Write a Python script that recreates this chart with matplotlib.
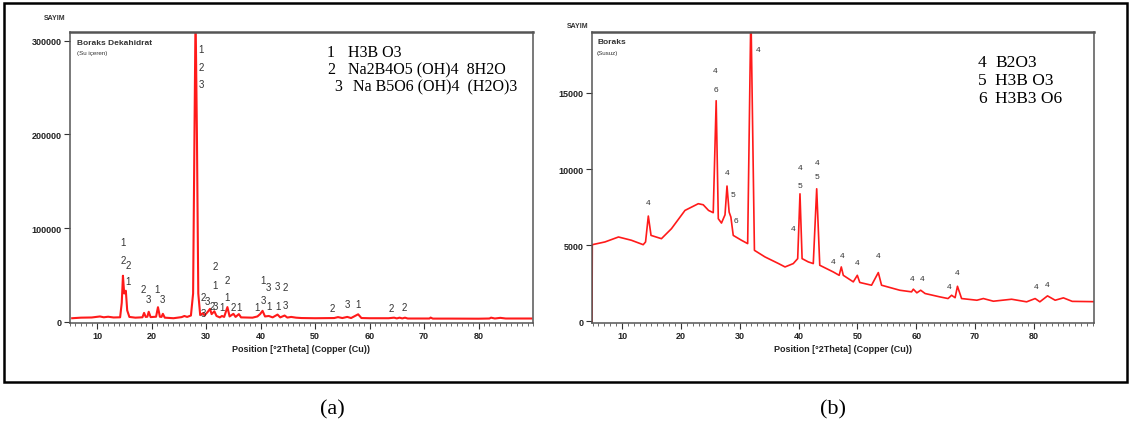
import matplotlib
matplotlib.use("Agg")
import matplotlib.pyplot as plt
from matplotlib.patches import Rectangle

plt.rcParams['font.family'] = ['Liberation Sans Narrow', 'Liberation Sans', 'DejaVu Sans']

# panel (a): borax decahydrate pattern
a_theta = [5.4, 7, 9, 10.5, 11.2, 12, 13, 14.2, 14.5, 14.72, 14.95, 15.25, 15.5, 15.9,
           17, 18.3, 18.6, 18.9, 19.2, 19.45, 19.8, 20.8, 21.15, 21.5, 21.8, 22.05, 22.4,
           24, 25.5, 26, 26.5, 27.2, 27.6, 27.85, 28.05, 28.3, 28.55, 28.9, 29.4, 29.7,
           30.3, 30.7, 31.0, 31.5, 31.9, 32.5, 32.9, 33.3, 33.9, 34.3, 35.0, 35.4, 36.0,
           36.4, 38.5, 39.4, 39.9, 40.35, 40.8, 41.5, 42.2, 43.1, 43.6, 44.4, 44.9, 45.6,
           46.5, 47.5, 50, 53.5, 54.2, 55, 55.9, 56.6, 57.9, 58.5, 60, 63.5, 64.5, 65.0,
           65.5, 66.0, 66.5, 67, 71, 71.2, 71.6, 75, 80, 82, 82.3, 83, 84, 85, 89.7]
a_counts = [3600, 4200, 4400, 5500, 4600, 5200, 4400, 4600, 20000, 49000, 30000, 33000, 12000, 5000,
            4200, 4600, 9300, 5000, 5200, 10500, 4800, 5200, 15400, 5200, 5000, 8300, 4200,
            3600, 4800, 6000, 5000, 6500, 30000, 200000, 330000, 200000, 30000, 7000, 9000, 6500,
            10500, 13600, 8000, 11000, 6000, 4500, 6000, 5000, 15500, 5500, 8300, 5000, 8000,
            4500, 4200, 5500, 8000, 11500, 5500, 6000, 4500, 7500, 4500, 6500, 4300, 5000,
            4200, 3800, 3600, 3800, 4800, 3800, 5000, 3800, 7800, 3800, 3600, 3600, 4200, 3400,
            4200, 3400, 4200, 3300, 3300, 4300, 3200, 3200, 3100, 3300, 4200, 3300, 4000, 3300, 3300]

# peak markers (a): text, 2theta, counts
a_lab_txt = ['1', '2', '2', '1', '2', '3', '1', '3', '2', '3', '3', '2', '2', '1', '3', '1',
             '2', '1', '2', '1', '1', '1', '3', '3', '1', '3', '1', '2', '3', '2', '3', '1',
             '2', '2', '1', '2', '3']
a_lab_x = [14.69, 14.69, 15.67, 15.67, 18.4, 19.38, 21.0, 21.99, 29.4, 29.4, 30.3, 31.1,
           31.7, 31.7, 31.7, 32.9, 33.9, 33.9, 35.0, 36.0, 39.3, 40.5, 40.5, 41.5, 41.5,
           43.1, 43.1, 44.45, 44.45, 53.1, 55.9, 57.9, 64.05, 66.3, 29.1, 29.1, 29.1]
a_lab_y = [84800, 65500, 60100, 42900, 34800, 24000, 34800, 24000, 26800, 9700, 21500, 16800,
           59800, 39400, 16800, 15400, 44700, 26800, 15400, 15400, 15400, 44700, 23300, 36900, 16800,
           38300, 16800, 36900, 17900, 14300, 19000, 19000, 14300, 15400, 291500, 271900, 254000]

a_legend_num = ['1', '2', '3']
a_legend_txt = ['H3B O3', 'Na2B4O5 (OH)4  8H2O', 'Na B5O6 (OH)4  (H2O)3']

# panel (b): anhydrous borax pattern
b_theta = [4.9, 4.95, 7.1, 9.4, 11.6, 13.6, 14.0, 14.47, 14.93, 16.7, 18.4, 20.7, 22.96, 23.8,
           24.7, 25.5, 26.0, 26.36, 26.9, 27.5, 27.84, 28.2, 28.5, 28.9, 30.3, 31.35, 31.9,
           32.5, 34.3, 36.6, 37.7, 39.1, 39.85, 40.24, 40.6, 41.65, 42.5, 43.08, 43.6, 45.9,
           46.9, 47.26, 47.6, 49.3, 49.98, 50.4, 52.4, 53.55, 54.1, 57.2, 59.2, 59.5, 60.1,
           60.75, 61.5, 64.0, 65.4, 66.0, 66.6, 67.0, 67.7, 70.3, 71.4, 73.1, 76.2, 78.75,
           80.2, 81.0, 82.3, 83.6, 85.0, 86.5, 90.2]
b_counts = [0, 5040, 5220, 5545, 5330, 5040, 5220, 6920, 5650, 5435, 6090, 7290, 7730, 7660,
            7290, 7140, 14490, 6745, 6460, 7000, 8890, 7180, 6850, 5650, 5330, 5110, 20500,
            4670, 4235, 3800, 3580, 3800, 4125, 8380, 4125, 3910, 3800, 8710, 3690, 3250,
            3030, 3580, 3030, 2600, 3030, 2560, 2380, 3210, 2380, 2050, 1945, 2120, 1880,
            2050, 1835, 1615, 1505, 1720, 1560, 2310, 1505, 1395, 1505, 1330, 1460, 1290,
            1505, 1290, 1680, 1395, 1550, 1320, 1300]

b_lab_txt = ['4', '4', '6', '4', '5', '6', '4', '4', '4', '5', '4', '5', '4', '4', '4', '4',
             '4', '4', '4', '4', '4', '4']
b_lab_x = [14.5, 25.9, 25.9, 27.8, 28.9, 29.3, 33.1, 39.0, 40.24, 40.24, 43.08, 43.08,
           45.9, 47.4, 50.0, 53.5, 59.3, 61.0, 65.5, 67.0, 80.3, 82.3]
b_lab_y = [7790, 16460, 15210, 9800, 8340, 6640, 17880, 6090, 10130, 8930, 10460, 9540,
           3910, 4300, 3840, 4340, 2815, 2790, 2270, 3210, 2270, 2440]

b_legend_num = ['4', '5', '6']
b_legend_txt = ['B2O3', 'H3B O3', 'H3B3 O6']

W, H = 1130, 439
fig = plt.figure(figsize=(W / 100, H / 100), dpi=100)
fig.patches.append(Rectangle((4 / W, (H - 383) / H), 1123 / W, 379 / H,
                             transform=fig.transFigure, fill=False,
                             edgecolor='black', linewidth=1.8))


def px_axes(l, t, r, b):
    return fig.add_axes([l / W, (H - b) / H, (r - l) / W, (b - t) / H])


def style(ax, xlim, ylim, yticks):
    ax.set_xlim(*xlim)
    ax.set_ylim(*ylim)
    ax.set_xticks(range(10, 90, 10))
    ax.set_xticks(range(5, 91), minor=True)
    ax.set_yticks(yticks)
    ax.tick_params(which='major', direction='out', length=4, width=0.8, colors='#333333',
                   labelsize=6.5, pad=2)
    ax.tick_params(which='minor', direction='out', length=2, width=0.6, colors='#555555')
    ax.tick_params(axis='y', which='minor', left=False)
    for lab in ax.get_xticklabels() + ax.get_yticklabels():
        lab.set_fontweight('bold')
        lab.set_color('#222222')
    for s in ax.spines.values():
        s.set_color('#555555')
        s.set_linewidth(1.1)
    ax.spines['top'].set_linewidth(1.8)
    ax.set_xlabel('Position [°2Theta] (Copper (Cu))', fontsize=6.5, color='#222222',
                  fontweight='bold', labelpad=3)


# ---- (a)
ax1 = px_axes(70, 33, 533, 324)
ax1.plot(a_theta, a_counts, color='#ff1a1a', linewidth=1.5, solid_joinstyle='round')
style(ax1, (5.4, 89.7), (-1500, 309500), [0, 100000, 200000, 300000])
for t, x, y in zip(a_lab_txt, a_lab_x, a_lab_y):
    ax1.text(x, y, t, fontsize=7, color='#333333', ha='center', va='center')
ax1.text(0.016, 0.965, 'Boraks Dekahidrat', transform=ax1.transAxes, fontsize=6,
         fontweight='bold', color='#333333', va='center')
ax1.text(0.016, 0.93, '(Su içeren)', transform=ax1.transAxes, fontsize=4.5,
         color='#333333', va='center')
fig.text(55 / W, (H - 19) / H, 'SAYIM', fontsize=5, fontweight='bold', color='#333333',
         ha='center', va='center')
for i, (n, s) in enumerate(zip(a_legend_num, a_legend_txt)):
    yy = [0.931, 0.873, 0.814][i]
    ax1.text(0.555 if i < 2 else 0.571, yy, n, transform=ax1.transAxes, fontsize=11.5,
             family='Liberation Serif', va='center', ha='left')
    ax1.text(0.600 if i < 2 else 0.611, yy, s, transform=ax1.transAxes, fontsize=11.5,
             family='Liberation Serif', va='center', ha='left')

# ---- (b)
ax2 = px_axes(592, 33, 1094, 324)
ax2.plot(b_theta, b_counts, color='#ff1a1a', linewidth=1.2, solid_joinstyle='round')
style(ax2, (4.9, 90.2), (-100, 19000), [0, 5000, 10000, 15000])
for t, x, y in zip(b_lab_txt, b_lab_x, b_lab_y):
    ax2.text(x, y, t, fontsize=6, color='#333333', ha='center', va='center')
ax2.text(0.010, 0.968, 'Boraks', transform=ax2.transAxes, fontsize=6,
         fontweight='bold', color='#333333', va='center')
ax2.text(0.010, 0.93, '(Susuz)', transform=ax2.transAxes, fontsize=4.5,
         color='#333333', va='center')
fig.text(578 / W, (H - 26) / H, 'SAYIM', fontsize=5, fontweight='bold', color='#333333',
         ha='center', va='center')
for i, (n, s) in enumerate(zip(b_legend_num, b_legend_txt)):
    yy = [0.897, 0.835, 0.773][i]
    ax2.text(0.769, yy, n, transform=ax2.transAxes, fontsize=12.5,
             family='Liberation Serif', va='center', ha='left')
    ax2.text(0.803, yy, s, transform=ax2.transAxes, fontsize=12.5,
             family='Liberation Serif', va='center', ha='left')

fig.text(332 / W, (H - 410) / H, '(a)', fontsize=16, family='Liberation Serif',
         ha='center', va='center')
fig.text(833 / W, (H - 410) / H, '(b)', fontsize=16, family='Liberation Serif',
         ha='center', va='center')

fig.savefig('out.png', dpi=100)
